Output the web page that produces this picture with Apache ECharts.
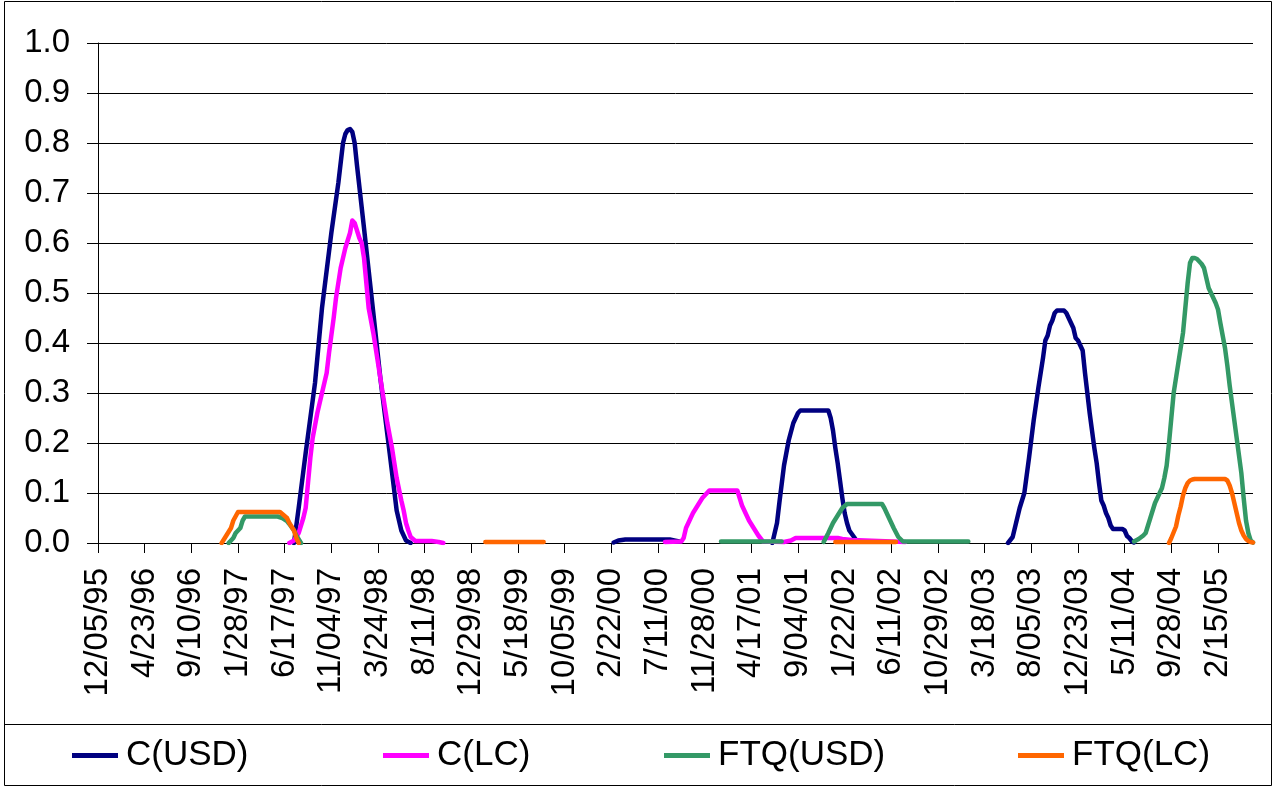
<!DOCTYPE html>
<html>
<head>
<meta charset="utf-8">
<script src="https://cdn.jsdelivr.net/npm/echarts@6/dist/echarts.min.js"></script>
<style>
html,body{margin:0;padding:0;background:#fff;}
#chart{width:1277px;height:787px;}
</style>
</head>
<body>
<div id="chart"></div>
<script>
// ---- Data (x = week index from 12/05/95, weekly observations) ----
const START_DATE = [1995, 11, 5];   // 12/05/95
const N_WEEKS = 496;
const TICK_LABELS = ['12/05/95','4/23/96','9/10/96','1/28/97','6/17/97','11/04/97','3/24/98','8/11/98',
  '12/29/98','5/18/99','10/05/99','2/22/00','7/11/00','11/28/00','4/17/01','9/04/01','1/22/02',
  '6/11/02','10/29/02','3/18/03','8/05/03','12/23/03','5/11/04','9/28/04','2/15/05'];
const Y_TICKS = [0,0.1,0.2,0.3,0.4,0.5,0.6,0.7,0.8,0.9,1.0];

const SERIES_NAMES = ['C(USD)','C(LC)','FTQ(USD)','FTQ(LC)'];

const C_USD = [
  [[84,0],[86,0.07],[89,0.18],[93,0.32],[96,0.47],[100,0.62],[103,0.72],[105,0.8],[106,0.818],[107,0.826],[108,0.828],[109,0.822],[110,0.8],[111,0.755],[114,0.63],[118,0.46],[121,0.33],[125,0.18],[128,0.065],[130,0.025],[132,0.005],[134,0]],
  [[221,0.001],[223,0.005],[226,0.007],[245,0.007],[249,0.003]],
  [[289,0],[291,0.04],[292,0.08],[294,0.155],[296,0.205],[298,0.24],[300,0.26],[301,0.265],[313,0.265],[314,0.25],[315,0.225],[316,0.19],[317,0.16],[318,0.125],[319,0.09],[320,0.06],[321,0.04],[322,0.025],[324,0.012],[325,0.005]],
  [[390,0],[392,0.012],[395,0.07],[397,0.1],[399,0.17],[401,0.245],[403,0.31],[405,0.37],[406,0.405],[407,0.415],[408,0.435],[409,0.445],[410,0.46],[411,0.465],[414,0.465],[415,0.46],[416,0.45],[417,0.44],[418,0.43],[419,0.41],[420,0.405],[421,0.395],[422,0.385],[423,0.34],[424,0.3],[425,0.26],[426,0.225],[427,0.19],[428,0.16],[429,0.12],[430,0.085],[431,0.075],[432,0.06],[433,0.05],[434,0.035],[435,0.028],[439,0.028],[440,0.025],[441,0.014],[442,0.01],[443,0.004],[444,0.001]]
];

const C_LC = [
  [[82,0],[84,0.005],[86,0.02],[88,0.05],[89,0.07],[90,0.12],[91,0.17],[92,0.21],[94,0.26],[96,0.3],[98,0.34],[99,0.38],[101,0.45],[102,0.49],[104,0.55],[106,0.59],[107,0.605],[108,0.62],[109,0.645],[110,0.64],[111,0.625],[112,0.61],[113,0.6],[114,0.57],[115,0.52],[116,0.47],[118,0.42],[121,0.33],[124,0.24],[126,0.19],[128,0.13],[130,0.085],[131,0.065],[132,0.04],[133,0.025],[134,0.012],[136,0.004],[143,0.004],[146,0.002],[148,0]],
  [[243,0.002],[250,0.003],[251,0.01],[252,0.03],[254,0.05],[255,0.06],[257,0.075],[259,0.09],[261,0.1],[262,0.105],[274,0.105],[275,0.09],[276,0.075],[278,0.055],[279,0.045],[281,0.03],[283,0.015],[285,0.003],[294,0.002],[297,0.005],[299,0.01],[317,0.01],[319,0.008],[323,0.006],[346,0.002]]
];

const FTQ_USD = [
  [[56,0],[58,0.01],[59,0.02],[61,0.03],[62,0.045],[63,0.053],[77,0.053],[79,0.05],[81,0.044],[82,0.038],[84,0.025],[85,0.015],[87,0]],
  [[267,0.003],[293,0.003]],
  [[311,0.002],[313,0.02],[315,0.04],[317,0.055],[319,0.07],[321,0.078],[336,0.078],[337,0.07],[338,0.06],[340,0.04],[341,0.03],[343,0.012],[345,0.003],[373,0.003]],
  [[444,0.003],[446,0.008],[448,0.015],[449,0.02],[450,0.035],[451,0.05],[452,0.065],[453,0.08],[455,0.1],[456,0.11],[457,0.13],[458,0.155],[459,0.2],[460,0.25],[461,0.3],[462,0.33],[463,0.36],[464,0.39],[465,0.42],[466,0.47],[467,0.52],[468,0.56],[469,0.57],[470,0.57],[471,0.568],[472,0.563],[473,0.558],[474,0.55],[475,0.53],[476,0.51],[477,0.5],[478,0.49],[479,0.48],[480,0.467],[481,0.44],[482,0.415],[483,0.39],[484,0.355],[485,0.315],[486,0.28],[487,0.245],[488,0.21],[489,0.175],[490,0.14],[491,0.09],[492,0.045],[493,0.02],[494,0.005],[495,0.001]]
];

const FTQ_LC = [
  [[53,0],[55,0.015],[57,0.03],[58,0.045],[60,0.062],[78,0.062],[79,0.058],[81,0.05],[82,0.04],[84,0.025],[85,0.01],[86,0]],
  [[166,0.002],[191,0.002]],
  [[316,0.002],[342,0.002]],
  [[459,0],[460,0.01],[462,0.033],[463,0.055],[464,0.073],[465,0.095],[466,0.11],[467,0.12],[468,0.125],[469,0.127],[470,0.128],[483,0.128],[484,0.125],[485,0.115],[486,0.1],[487,0.08],[488,0.06],[489,0.04],[490,0.025],[491,0.015],[492,0.008],[493,0.004],[494,0.002],[495,0.001]]
];

const COLORS = ['#000080','#FF00FF','#339966','#FF6600'];

// ---- Build categories (weekly dates, M/DD/YY) ----
function fmtDate(d){
  const m = d.getUTCMonth()+1, day = d.getUTCDate(), y = d.getUTCFullYear()%100;
  return m + '/' + String(day).padStart(2,'0') + '/' + String(y).padStart(2,'0');
}
const categories = [];
const t0 = Date.UTC(START_DATE[0], START_DATE[1], START_DATE[2]);
for (let i = 0; i < N_WEEKS; i++) {
  categories.push(i % 20 === 0 ? TICK_LABELS[i/20] : fmtDate(new Date(t0 + i*7*86400000)));
}

function joinSegments(segs){
  const out = [];
  segs.forEach((s, k) => {
    if (k > 0) out.push([s[0][0], '-']);
    s.forEach(p => out.push(p));
  });
  return out;
}

const FONT = 'Liberation Sans, Arial, sans-serif';
const allData = [C_USD, C_LC, FTQ_USD, FTQ_LC];
const legendLeft = [72, 383, 664, 1018];

const chart = echarts.init(document.getElementById('chart'), null, {renderer:'canvas'});
chart.setOption({
  animation: false,
  backgroundColor: '#fff',
  textStyle: {fontFamily: FONT},
  grid: {left: 98, top: 43, width: 1155, height: 500, containLabel: false, outerBoundsMode: 'none'},
  xAxis: {
    type: 'category',
    data: categories,
    boundaryGap: false,
    axisLine: {show: true, lineStyle: {color: '#000', width: 1}},
    axisTick: {show: true, interval: 19, length: 10, lineStyle: {color: '#000'}},
    axisLabel: {interval: 19, rotate: 90, margin: 25, fontSize: 33, color: '#000', fontFamily: FONT},
    splitLine: {show: false}
  },
  yAxis: {
    type: 'value',
    min: Y_TICKS[0], max: Y_TICKS[Y_TICKS.length-1], interval: 0.1,
    axisLine: {show: true, lineStyle: {color: '#000', width: 1}},
    axisTick: {show: true, length: 11, lineStyle: {color: '#000'}},
    axisLabel: {margin: 28, fontSize: 33, color: '#000', fontFamily: FONT, formatter: v => v.toFixed(1)},
    splitLine: {show: true, lineStyle: {color: '#000', width: 1}}
  },
  legend: SERIES_NAMES.map((n, i) => ({
    data: [n], left: legendLeft[i], top: 738, padding: 0, icon: 'rect', itemWidth: 46, itemHeight: 5,
    textStyle: {fontSize: 35, color: '#000', fontFamily: FONT, padding: [0,0,0,3]},
    selectedMode: false
  })),
  graphic: [
    {type: 'rect', shape: {x: 4.5, y: 1.5, width: 1267, height: 784}, style: {fill: null, stroke: '#000', lineWidth: 1}, silent: true, z: -1},
    {type: 'line', shape: {x1: 4.5, y1: 724.5, x2: 1271.5, y2: 724.5}, style: {stroke: '#000', lineWidth: 1}, silent: true}
  ],
  series: SERIES_NAMES.map((n, i) => ({
    name: n, type: 'line', data: joinSegments(allData[i]),
    showSymbol: false, symbol: 'none', connectNulls: false,
    lineStyle: {color: COLORS[i], width: 4.5, join: 'round', cap: 'round'},
    itemStyle: {color: COLORS[i]},
    z: 2 + i
  }))
});
</script>
</body>
</html>
